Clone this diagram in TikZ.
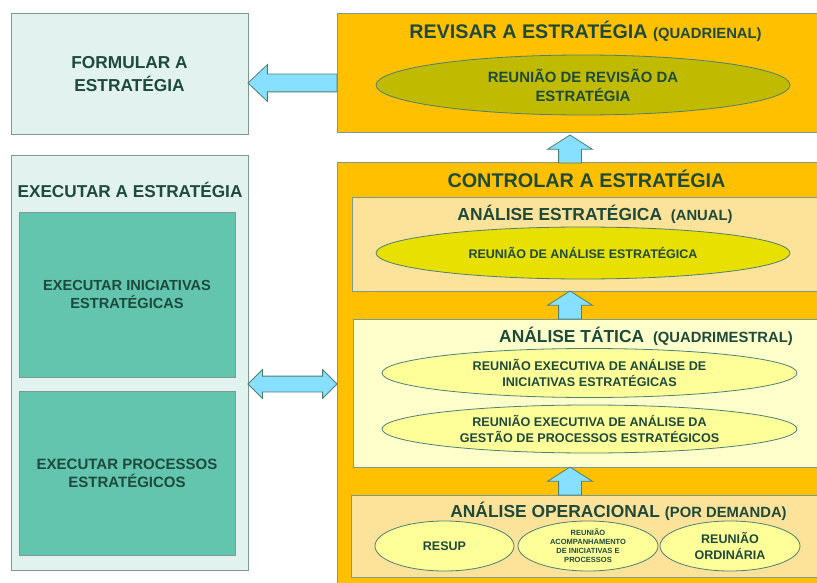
\documentclass[tikz,border=0pt]{standalone}
\usepackage{fontspec}
\setmainfont{Liberation Sans}
\usetikzlibrary{shapes.geometric,shapes.arrows}
\definecolor{txt}{HTML}{1E4A3C}
\definecolor{line1}{HTML}{7D9A8E}
\definecolor{mint}{HTML}{E2F2EE}
\definecolor{teal1}{HTML}{63C5AE}
\definecolor{orange1}{HTML}{FFC000}
\definecolor{sand}{HTML}{FDE29A}
\definecolor{cream}{HTML}{FFFFCC}
\definecolor{olive1}{HTML}{C0BA00}
\definecolor{yell1}{HTML}{E8E000}
\definecolor{yell2}{HTML}{FFFF99}
\definecolor{acyan}{HTML}{87E0FF}
\definecolor{aline}{HTML}{4F7F72}
\newcommand\fsz[2]{\fontsize{#1}{#2}\selectfont\bfseries}
\begin{document}
\begin{tikzpicture}
		[x=1pt,y=-1pt,
		box1/.style={rectangle,draw=line1,fill=mint,line width=1pt,
inner sep=0pt,outer sep=0pt,align=center,text=txt},
		box2/.style={box1,fill=teal1},
		box3/.style={box1,fill=orange1},
		box4/.style={box1,fill=sand},
		box5/.style={box1,fill=cream},
		oval/.style={ellipse,draw=aline,line width=0.8pt,inner sep=0pt,
align=center,text=txt},
		title/.style={anchor=base,text=txt,inner sep=0pt},
		arrow1/.style={single arrow,draw=aline,fill=acyan,line width=0.8pt,
inner xsep=0pt,inner ysep=11pt,outer sep=0pt,minimum width=44,single arrow head extend=11,
single arrow tip angle=115,minimum height=28,rotate=90,anchor=tail},
		arrow2/.style={double arrow,draw=aline,fill=acyan,line width=0.8pt,
inner xsep=0pt,inner ysep=7.5pt,outer sep=0pt,minimum width=28,double arrow head extend=6.5,
double arrow tip angle=90,minimum height=89}]
		\useasboundingbox (0,0) rectangle (817,583);
		% left column
		\node at (129.5,74.5) (formular) [box1,minimum width=237,minimum height=121,
font=\fsz{17.3}{23}] {FORMULAR A\\ESTRATÉGIA};
		\node at (129.5,363) (executar) [box1,minimum width=237,minimum height=414] {};
		\node at (130,197) (executartxt) [title,font=\fsz{17.2}{20}] {EXECUTAR A ESTRATÉGIA};
		\node at (127,294.5) (iniciativas) [box2,minimum width=216,minimum height=165,
font=\fsz{14.6}{18}] {EXECUTAR INICIATIVAS\\ESTRATÉGICAS};
		\node at (127,473) (processos) [box2,minimum width=216,minimum height=164,
font=\fsz{15}{18}] {EXECUTAR PROCESSOS\\ESTRATÉGICOS};
		% right column
		\node at (582,73.5) (revisar) [box3,minimum width=490,minimum height=119] {};
		\node at (585.5,39) (revisartxt) [title,font=\fsz{19.7}{22}]
			{REVISAR A ESTRATÉGIA {\fsz{14.8}{17}(QUADRIENAL)}};
		\node at (583,85) (revisao) [oval,fill=olive1,minimum width=414,minimum height=60,
font=\fsz{14.9}{19}] {REUNIÃO DE REVISÃO DA\\ESTRATÉGIA};
		\node at (583.5,381.5) (controlar) [box3,minimum width=493,minimum height=437] {};
		\node at (586.5,188) (controlartxt) [title,font=\fsz{19.8}{22}] {CONTROLAR A ESTRATÉGIA};
		\node at (591,244.5) (estrategica) [box4,minimum width=478,minimum height=93] {};
		\node at (595,220) (estrategicatxt) [title,font=\fsz{17.4}{20}]
			{ANÁLISE ESTRATÉGICA\hspace{4pt} {\fsz{14.8}{17}(ANUAL)}};
		\node at (583,253) (anest) [oval,fill=yell1,minimum width=414,minimum height=52,
font=\fsz{12.5}{15}] {REUNIÃO DE ANÁLISE ESTRATÉGICA};
		\node at (591.5,393) (tatica) [box5,minimum width=477,minimum height=148] {};
		\node at (646,342) (taticatxt) [title,font=\fsz{17.4}{20}]
			{ANÁLISE TÁTICA\hspace{4pt} {\fsz{14.8}{17}(QUADRIMESTRAL)}};
		\node at (589.5,373) (iniciat) [oval,fill=yell2,minimum width=415,minimum height=49,
font=\fsz{12.6}{16}] {REUNIÃO EXECUTIVA DE ANÁLISE DE\\INICIATIVAS ESTRATÉGICAS};
		\node at (589.5,429) (gestao) [oval,fill=yell2,minimum width=415,minimum height=48,
font=\fsz{12.6}{16}] {REUNIÃO EXECUTIVA DE ANÁLISE DA\\GESTÃO DE PROCESSOS ESTRATÉGICOS};
		\node at (590.5,536) (operacional) [box4,minimum width=479,minimum height=82] {};
		\node at (618.5,517) (operacionaltxt) [title,font=\fsz{17.4}{20}]
			{ANÁLISE OPERACIONAL {\fsz{14.8}{17}(POR DEMANDA)}};
		\node at (444.5,546) (resup) [oval,fill=yell2,minimum width=139,minimum height=50,
font=\fsz{12.5}{15}] {RESUP};
		\node at (588,546) (acomp) [oval,fill=yell2,minimum width=140,minimum height=50,
font=\fsz{7.5}{9}] {REUNIÃO\\ACOMPANHAMENTO\\DE INICIATIVAS E\\PROCESSOS};
		\node at (730,546) (ordinaria) [oval,fill=yell2,minimum width=140,minimum height=50,
font=\fsz{12.5}{15.7}] {REUNIÃO\\ORDINÁRIA};
		% block arrows
		\node at ([yshift=-8.5pt]formular.east) (ret) [arrow1,minimum width=36,inner ysep=8.5pt,
single arrow head extend=9.5,single arrow tip angle=87,minimum height=89,
rotate=90,anchor=tip] {};
		\node at ([xshift=-13.5pt]controlar.north) (up1) [arrow1] {};
		\node at ([xshift=-21.5pt]tatica.north) (up2) [arrow1] {};
		\node at ([xshift=-20.5pt]operacional.north) (up3) [arrow1] {};
		\node at ([yshift=-21pt]executar.east) (both) [arrow2,anchor=west] {};
	\end{tikzpicture}
\end{document}
